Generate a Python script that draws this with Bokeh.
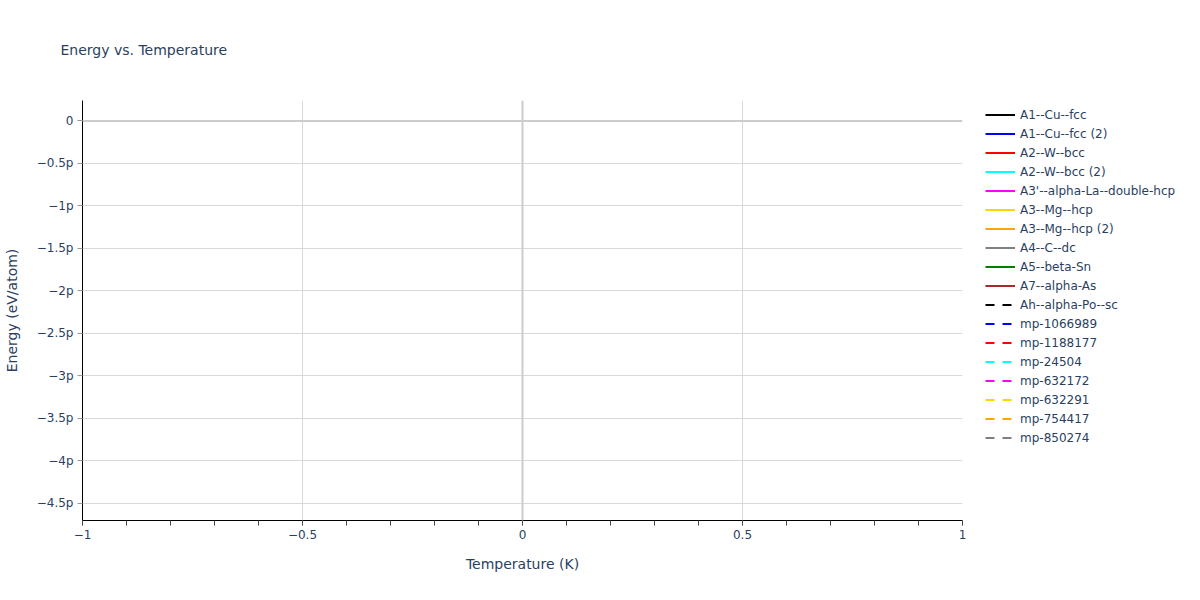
from bokeh.plotting import figure
from bokeh.resources import INLINE
from bokeh.embed import file_html
from bokeh.models import (ColumnDataSource, Range1d, FixedTicker, CustomJSTickFormatter,
                          Span, Legend, LegendItem)

# one point per series at T = 0 K (a single point draws no visible line)
names = ["A1--Cu--fcc", "A1--Cu--fcc (2)", "A2--W--bcc", "A2--W--bcc (2)",
         "A3'--alpha-La--double-hcp", "A3--Mg--hcp", "A3--Mg--hcp (2)", "A4--C--dc",
         "A5--beta-Sn", "A7--alpha-As", "Ah--alpha-Po--sc", "mp-1066989",
         "mp-1188177", "mp-24504", "mp-632172", "mp-632291", "mp-754417", "mp-850274"]
colors = ["black", "blue", "red", "cyan", "magenta", "gold", "orange", "gray",
          "green", "brown", "black", "blue", "red", "cyan", "magenta", "gold",
          "orange", "gray"]
dashed = [False] * 10 + [True] * 8
temps = [[0]] * 18  # Temperature (K)
energies = [[0], [0], [0], [0], [-4.47e-12], [0], [0], [0], [0], [0],
            [0], [0], [0], [0], [0], [0], [0], [0]]  # Energy (eV/atom)

x_ticks = [-1, -0.5, 0, 0.5, 1]
x_minor = [-1 + 0.1 * i for i in range(21)]
y_ticks = [0, -0.5e-12, -1e-12, -1.5e-12, -2e-12, -2.5e-12, -3e-12, -3.5e-12, -4e-12, -4.5e-12]

FONT = "DejaVu Sans"
TXT = "#2a3f5f"

p = figure(frame_width=880, frame_height=420, output_backend="svg", toolbar_location=None,
           x_range=Range1d(-1, 1), y_range=Range1d(-4.706e-12, 0.24e-12),
           min_border_left=82, min_border_right=230, min_border_top=100, min_border_bottom=72)
p.outline_line_color = None

p.title.text = "Energy vs. Temperature"
p.title.text_font = FONT
p.title.text_font_size = "14px"
p.title.text_font_style = "normal"
p.title.text_color = TXT
p.title.offset = -22
p.title.vertical_align = "top"
p.title.standoff = 81

fmt = CustomJSTickFormatter(code="""
    if (Math.abs(tick) < 1e-15) return "0";
    const v = Math.round(Math.abs(tick) * 1e13) / 10;
    return (tick < 0 ? "\u2212" : "") + v + "p";
""")
xfmt = CustomJSTickFormatter(code="""
    return (tick < 0 ? "\u2212" : "") + Math.abs(tick);
""")

xa = p.xaxis[0]
xa.ticker = FixedTicker(ticks=x_ticks, minor_ticks=x_minor)
xa.formatter = xfmt
xa.axis_label = "Temperature (K)"
ya = p.yaxis[0]
ya.ticker = FixedTicker(ticks=y_ticks)
ya.formatter = fmt
ya.axis_label = "Energy (eV/atom)"
ya.minor_tick_line_color = None

for ax in (xa, ya):
    ax.axis_line_color = "black"
    ax.axis_line_width = 1
    ax.major_tick_line_color = "#999999"
    ax.major_tick_out = 5
    ax.major_tick_in = 0
    ax.major_label_standoff = 4
    ax.major_label_text_font = FONT
    ax.major_label_text_font_size = "12px"
    ax.major_label_text_color = TXT
    ax.axis_label_text_font = FONT
    ax.axis_label_text_font_size = "14px"
    ax.axis_label_text_font_style = "normal"
    ax.axis_label_text_color = TXT
xa.minor_tick_line_color = "#444444"
xa.minor_tick_out = 5
xa.minor_tick_in = 0
xa.axis_label_standoff = 14
ya.axis_label_standoff = 14

p.xgrid.ticker = FixedTicker(ticks=[-0.5, 0.5])
p.ygrid.ticker = FixedTicker(ticks=y_ticks[1:])
p.xgrid.grid_line_color = "#d9d9d9"
p.ygrid.grid_line_color = "#d9d9d9"
p.add_layout(Span(location=0, dimension="width", line_color="#cccccc", line_width=2))
p.add_layout(Span(location=0, dimension="height", line_color="#cccccc", line_width=2))

items = []
for n, c, d, xs, ys in zip(names, colors, dashed, temps, energies):
    src = ColumnDataSource(data=dict(x=xs, y=ys))
    r = p.line("x", "y", source=src, line_color=c, line_width=2,
               line_dash="9 8" if d else "solid")
    items.append(LegendItem(label=n, renderers=[r]))

legend = Legend(items=items, location=(23, 73), orientation="vertical")
legend.label_text_font = FONT
legend.label_text_font_size = "12px"
legend.label_text_color = TXT
legend.glyph_width = 30
legend.glyph_height = 19
legend.label_height = 19
legend.label_standoff = 5
legend.spacing = 0
legend.padding = 0
legend.margin = 0
legend.border_line_color = None
legend.background_fill_alpha = 0
p.add_layout(legend, "right")

open("out.html", "w").write(file_html(p, INLINE))
